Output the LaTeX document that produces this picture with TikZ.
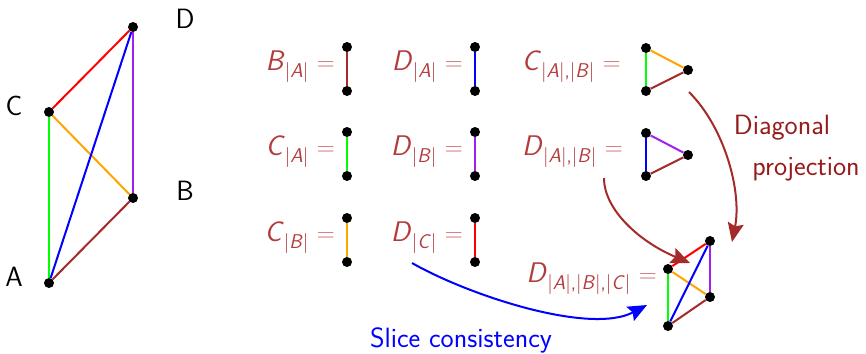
\documentclass[tikz,border=0pt]{standalone}
\usepackage{fontspec}
\usetikzlibrary{arrows.meta}
\definecolor{lab}{RGB}{178,60,60}
\definecolor{eqc}{RGB}{200,105,105}
\definecolor{brn}{RGB}{165,42,42}
\definecolor{darkbrn}{RGB}{150,28,28}
\definecolor{grn}{RGB}{0,255,0}
\definecolor{org}{RGB}{255,165,0}
\definecolor{prp}{RGB}{160,32,240}
\newcommand\eqlab[2]{\textit{#1}\raisebox{-0.27em}{\fontsize{20}{24}\selectfont #2}\hspace{0.3em}\textcolor{eqc}{$=$}}
\begin{document}
\begin{tikzpicture}[x=1bp,y=-1bp,
  dot/.style={circle,fill=black,inner sep=0pt,minimum size=10bp},
  edge/.style={line width=2bp},
  lbl/.style={text=lab,anchor=base east,inner sep=0pt,font=\fontsize{28.5}{33}\selectfont\sffamily},
  vlbl/.style={text=black,inner sep=0pt,font=\fontsize{28}{33}\selectfont\sffamily},
  note/.style={inner sep=0pt,font=\fontsize{28}{33}\selectfont\sffamily},
  bigarrow/.style={line width=2bp,-{Stealth[length=19bp,width=16bp,inset=3bp]}}]
\useasboundingbox (0,0) rectangle (866,353);
% left graph
\node[dot] (A) at (49,283) {};
\node[dot] (C) at (49,112) {};
\node[dot] (D) at (133,27) {};
\node[dot] (B) at (133,198) {};
\node[vlbl] (lA) at (14,277) {A};
\node[vlbl] (lC) at (14,106) {C};
\node[vlbl] (lD) at (185,19) {D};
\node[vlbl] (lB) at (185,191) {B};
\draw[edge,grn] (A) -- (C);
\draw[edge,red] (C) -- (D);
\draw[edge,org] (C) -- (B);
\draw[edge,blue] (A) -- (D);
\draw[edge,prp] (D) -- (B);
\draw[edge,brn] (A) -- (B);
% pairs column 1
\node[dot] (p1a) at (347,47) {};
\node[dot] (p1b) at (347,91) {};
\draw[edge,brn] (p1a) -- (p1b);
\node[lbl] (t1) at (335,70) {\eqlab{B}{|\textit{A}|}};
\node[dot] (p2a) at (347,132) {};
\node[dot] (p2b) at (347,176) {};
\draw[edge,grn] (p2a) -- (p2b);
\node[lbl] (t2) at (335,155) {\eqlab{C}{|\textit{A}|}};
\node[dot] (p3a) at (347,218) {};
\node[dot] (p3b) at (347,262) {};
\draw[edge,org] (p3a) -- (p3b);
\node[lbl] (t3) at (335,241) {\eqlab{C}{|\textit{B}|}};
% pairs column 2
\node[dot] (q1a) at (475,47) {};
\node[dot] (q1b) at (475,91) {};
\draw[edge,blue] (q1a) -- (q1b);
\node[lbl] (u1) at (463,70) {\eqlab{D}{|\textit{A}|}};
\node[dot] (q2a) at (475,132) {};
\node[dot] (q2b) at (475,176) {};
\draw[edge,prp] (q2a) -- (q2b);
\node[lbl] (u2) at (463,155) {\eqlab{D}{|\textit{B}|}};
\node[dot] (q3a) at (475,218) {};
\node[dot] (q3b) at (475,262) {};
\draw[edge,red] (q3a) -- (q3b);
\node[lbl] (u3) at (463,241) {\eqlab{D}{|\textit{C}|}};
% triangles
\node[dot] (r1a) at (646,48) {};
\node[dot] (r1b) at (646,91) {};
\node[dot] (r1c) at (688,70) {};
\draw[edge,grn] (r1a) -- (r1b);
\draw[edge,org] (r1a) -- (r1c);
\draw[edge,brn] (r1b) -- (r1c);
\node[lbl] (v1) at (621,70) {\eqlab{C}{|\textit{A}|,|\textit{B}|}};
\node[dot] (r2a) at (646,133) {};
\node[dot] (r2b) at (646,176) {};
\node[dot] (r2c) at (688,155) {};
\draw[edge,blue] (r2a) -- (r2b);
\draw[edge,prp] (r2a) -- (r2c);
\draw[edge,brn] (r2b) -- (r2c);
\node[lbl] (v2) at (623,155) {\eqlab{D}{|\textit{A}|,|\textit{B}|}};
% final graph
\node[dot] (A2) at (668,326) {};
\node[dot] (C2) at (668,269) {};
\node[dot] (D2) at (710,241) {};
\node[dot] (B2) at (710,297) {};
\draw[edge,grn] (A2) -- (C2);
\draw[edge,red] (C2) -- (D2);
\draw[edge,org] (C2) -- (B2);
\draw[edge,blue] (A2) -- (D2);
\draw[edge,prp] (D2) -- (B2);
\draw[edge,brn] (A2) -- (B2);
\node[lbl] (w) at (657,282) {\eqlab{D}{|\textit{A}|,|\textit{B}|,|\textit{C}|}};
% arrows
\coordinate (s1) at (689,92);
\coordinate (e1) at (732,242);
\draw[bigarrow,brn] (s1) .. controls (725,128) and (742,192) .. (e1);
\coordinate (s2) at (604,178);
\coordinate (e2) at (690,263);
\draw[bigarrow,brn] (s2) .. controls (604,210) and (640,242) .. (e2);
\coordinate (s3) at (412,263);
\coordinate (e3) at (647,305);
\draw[bigarrow,blue] (s3) .. controls (470,296) and (590,335) .. (e3);
\node[note,text=darkbrn] (n1) at (782,128) {Diagonal};
\node[note,text=darkbrn] (n2) at (806,169) {projection};
\node[note,text=blue] (n3) at (461,340) {Slice consistency};
\end{tikzpicture}
\end{document}
